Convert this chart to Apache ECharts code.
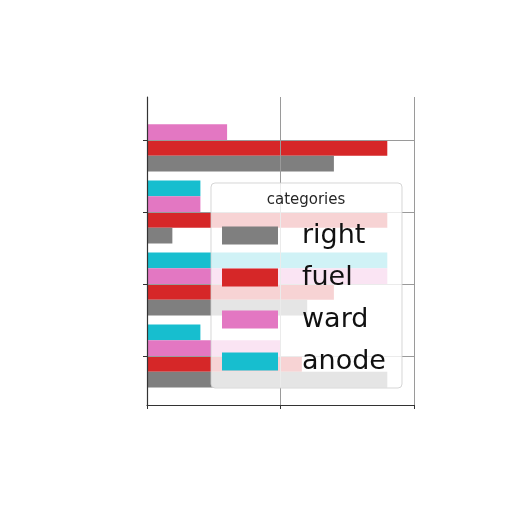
<!DOCTYPE html>
<html><head><meta charset="utf-8">
<script src="https://cdn.jsdelivr.net/npm/echarts@6/dist/echarts.min.js"></script>
<style>html,body{margin:0;padding:0;background:#fff}#c{width:512px;height:512px}</style>
</head><body><div id="c"></div>
<script>
const categories = ['G1', 'G2', 'G3', 'G4'];
const seriesNames = ['right', 'fuel', 'ward', 'anode'];
const right = [70, 9.5, 60, 90];
const fuel = [90, 90, 70, 58];
const ward = [30, 20, 90, 50];
const anode = [0, 20, 90, 20];
const xTicks = [0, 50, 100];
const colors = {right: '#7f7f7f', fuel: '#d62728', ward: '#e377c2', anode: '#17becf'};
const values = {right, fuel, ward, anode};

const chart = echarts.init(document.getElementById('c'), null, {renderer: 'canvas'});
const axisCol = '#333';
const gridCol = '#9a9a9a';
const order = ['anode', 'ward', 'fuel', 'right'];
chart.setOption({
  animation: false,
  grid: [
    {left: 147, right: 98, top: 97, bottom: 107},
    {left: 147, right: 98, top: 140, bottom: 156}
  ],
  xAxis: [
    {gridIndex: 0, type: 'value', min: xTicks[0], max: xTicks[xTicks.length-1], interval: xTicks[1]-xTicks[0], z: 3,
     axisLine: {show: true, lineStyle: {color: axisCol, width: 1.2}},
     axisTick: {show: true, length: 4, lineStyle: {color: axisCol}},
     axisLabel: {show: false},
     splitLine: {show: true, lineStyle: {color: gridCol, width: 1}}},
    {gridIndex: 1, type: 'value', min: xTicks[0], max: xTicks[xTicks.length-1], show: false}
  ],
  yAxis: [
    {gridIndex: 0, type: 'value', min: 0, max: 1, z: 3,
     axisLine: {show: true, lineStyle: {color: axisCol, width: 1.2}},
     axisTick: {show: false}, axisLabel: {show: false}, splitLine: {show: false}},
    {gridIndex: 1, type: 'category', data: categories, inverse: true, boundaryGap: false, z: 3,
     axisLine: {show: false},
     axisTick: {show: true, length: 4, lineStyle: {color: axisCol}},
     axisLabel: {show: false},
     splitLine: {show: true, lineStyle: {color: gridCol, width: 1}}}
  ],
  legend: {
    data: seriesNames, left: 222, top: 222, orient: 'vertical', z: 6,
    itemWidth: 56, itemHeight: 18, itemGap: 15, padding: 0,
    icon: 'rect',
    textStyle: {fontSize: 27, fontFamily: 'DejaVu Sans', color: '#111', padding: [0, 0, 0, 19]}
  },
  graphic: [
    {type: 'rect', z: 4, shape: {x: 211, y: 183, width: 191, height: 205, r: 4},
     style: {fill: 'rgba(255,255,255,0.8)', stroke: 'rgba(204,204,204,0.8)', lineWidth: 1}},
    {type: 'text', z: 5, x: 306, y: 200,
     style: {text: 'categories', fontSize: 15, fontFamily: 'DejaVu Sans', fill: '#262626', align: 'center', verticalAlign: 'middle'}}
  ],
  series: order.map(n => ({
    name: n, type: 'bar', xAxisIndex: 1, yAxisIndex: 1, data: values[n],
    barWidth: 15.75, barGap: '0%', clip: false, z: 2,
    itemStyle: {color: colors[n]}
  }))
});
</script></body></html>
